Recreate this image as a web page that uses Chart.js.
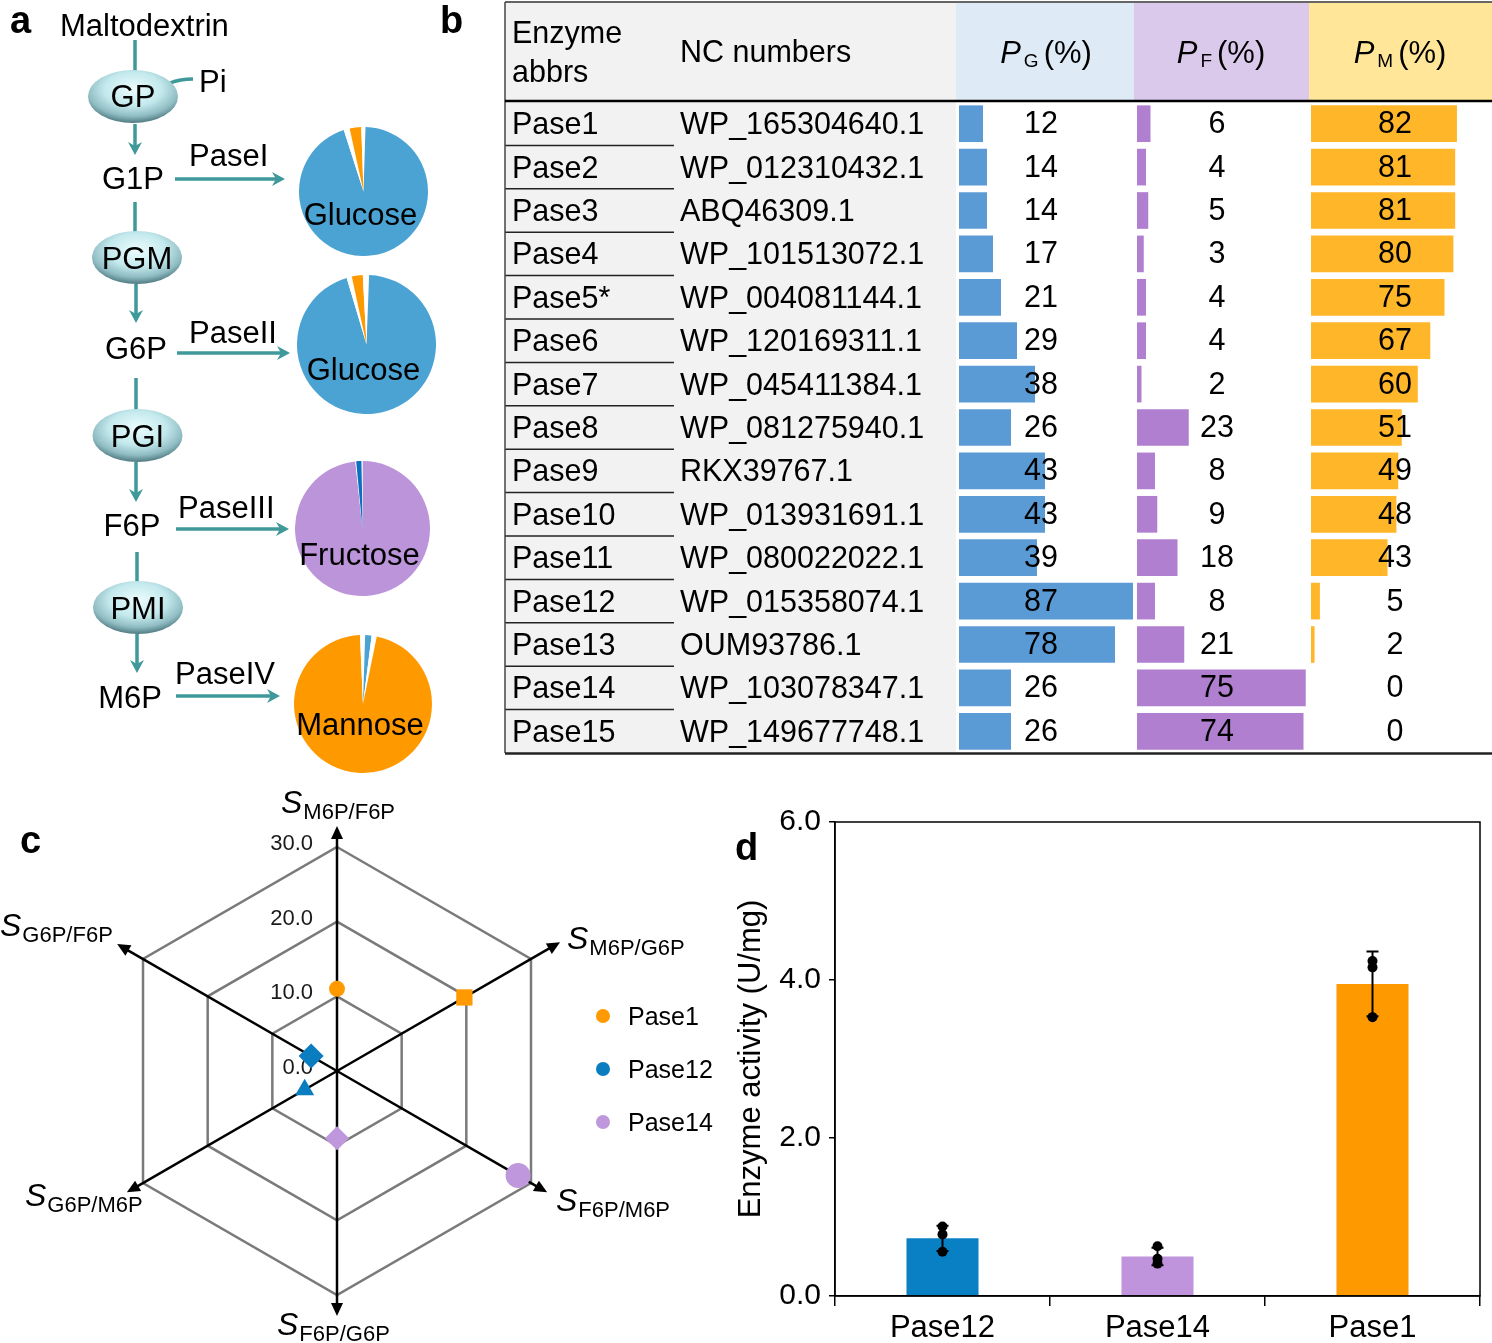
<!DOCTYPE html>
<html>
<head>
<meta charset="utf-8">
<script src="https://cdn.jsdelivr.net/npm/chart.js@4.4.1/dist/chart.umd.min.js"></script>
<style>
  html, body { margin:0; padding:0; background:#fff; }
  #page { position:relative; width:1492px; height:1343px; overflow:hidden; font-family:"Liberation Sans", Arial, sans-serif; }
  #page canvas { position:absolute; }
  #overlay { position:absolute; left:0; top:0; pointer-events:none; }
</style>
</head>
<body>
<div id="page">
  <canvas id="pie1"></canvas>
  <canvas id="pie2"></canvas>
  <canvas id="pie3"></canvas>
  <canvas id="pie4"></canvas>
  <canvas id="barPG"></canvas>
  <canvas id="barPF"></canvas>
  <canvas id="barPM"></canvas>
  <canvas id="radar"></canvas>
  <canvas id="activity"></canvas>
  <svg id="overlay" width="1492" height="1343" xmlns="http://www.w3.org/2000/svg"></svg>
</div>
<script>
// ── Données ────────────────────────────────────────────────
// a : parts des produits (%) dans chaque camembert, en partant de midi
const pieNames     = ['Glucose', 'Glucose', 'Fructose', 'Mannose'];
const pieIValues   = [0.5, 94.55, 1.5, 2.9, 0.55];
const pieIIValues  = [0.6, 94.8, 1.2, 2.55, 0.85];
const pieIIIValues = [98.3, 0.2, 1.3, 0.2];
const pieIVValues  = [0.5, 1.5, 1.2, 96.1, 0.7];

// b : tableau des 15 phosphatases
const enzymeAbbrs = ['Pase1','Pase2','Pase3','Pase4','Pase5*','Pase6','Pase7','Pase8',
                     'Pase9','Pase10','Pase11','Pase12','Pase13','Pase14','Pase15'];
const ncNumbers   = ['WP_165304640.1','WP_012310432.1','ABQ46309.1','WP_101513072.1','WP_004081144.1',
                     'WP_120169311.1','WP_045411384.1','WP_081275940.1','RKX39767.1','WP_013931691.1',
                     'WP_080022022.1','WP_015358074.1','OUM93786.1','WP_103078347.1','WP_149677748.1'];
const pG = [12, 14, 14, 17, 21, 29, 38, 26, 43, 43, 39, 87, 78, 26, 26];
const pF = [ 6,  4,  5,  3,  4,  4,  2, 23,  8,  9, 18,  8, 21, 75, 74];
const pM = [82, 81, 81, 80, 75, 67, 60, 51, 49, 48, 43,  5,  2,  0,  0];

// c : sélectivités (radar)
const radarAxes   = ['M6P/F6P', 'M6P/G6P', 'F6P/M6P', 'F6P/G6P', 'G6P/M6P', 'G6P/F6P'];
const radarTicks  = [0, 10, 20, 30];
const radarPase1  = [11, 19.7, null, null, null, null];
const radarPase12 = [null, null, null, null, 5, 4];
const radarPase14 = [null, null, 28, 9, null, null];

// d : activité enzymatique (U/mg)
const actLabels = ['Pase12', 'Pase14', 'Pase1'];
const actMean   = [0.73, 0.50, 3.95];
const actErr    = [0.16, 0.11, 0.41];
const actRep1   = [0.88, 0.63, 4.24];
const actRep2   = [0.78, 0.47, 4.16];
const actRep3   = [0.56, 0.41, 3.53];

// ── Styles ─────────────────────────────────────────────────
const FONT   = '"Liberation Sans", Arial, sans-serif';
const WHITE  = '#ffffff';
const BLUE   = '#4ba3d3', ORANGE = '#ff9900', PURPLE = '#bc94da', DKBLUE = '#0d6fbe';
const TEAL   = '#3f9899';

Chart.defaults.font.family = FONT;
Chart.defaults.color = '#000';
Chart.defaults.animation = false;
Chart.defaults.plugins.legend.display = false;
Chart.defaults.plugins.tooltip.enabled = false;

function sizeCanvas(id, left, top, w, h) {
  const el = document.getElementById(id);
  el.width = w; el.height = h;
  el.style.left = left + 'px'; el.style.top = top + 'px';
  el.style.width = w + 'px'; el.style.height = h + 'px';
  return el;
}

// ── a : camemberts ─────────────────────────────────────────
const pieBoxes = [
  { cx:363.5, cy:191.5, r:64.5, ty:33 },
  { cx:366.5, cy:344,   r:69.5, ty:36 },
  { cx:362.5, cy:528,   r:67.5, ty:37 },
  { cx:363,   cy:704,   r:69,   ty:31 },
];
const pieSets = [
  { values:pieIValues,   colors:[WHITE, BLUE, WHITE, ORANGE, WHITE] },
  { values:pieIIValues,  colors:[WHITE, BLUE, WHITE, ORANGE, WHITE] },
  { values:pieIIIValues, colors:[PURPLE, WHITE, DKBLUE, WHITE] },
  { values:pieIVValues,  colors:[WHITE, BLUE, WHITE, ORANGE, WHITE] },
];
pieSets.forEach((p, i) => {
  const b = pieBoxes[i];
  const el = sizeCanvas('pie' + (i+1), b.cx - b.r, b.cy - b.r, Math.round(b.r*2), Math.round(b.r*2));
  new Chart(el, {
    type: 'pie',
    data: { labels: p.values.map((_, k) => k), datasets: [{ data: p.values, backgroundColor: p.colors, borderWidth: 0, hoverOffset: 0, offset: 0 }] },
    options: { responsive: false, layout: { padding: 0 } }
  });
});

// ── b : barres du tableau ──────────────────────────────────
const ROW_TOP = 102, ROW_BOTTOM = 753;
const cellLabels = {
  id: 'cellLabels',
  afterDatasetsDraw(chart, args, opts) {
    const { ctx } = chart;
    const meta = chart.getDatasetMeta(0);
    ctx.save();
    ctx.font = `30.5px ${FONT}`;
    ctx.fillStyle = '#000';
    ctx.textAlign = 'center';
    ctx.textBaseline = 'middle';
    meta.data.forEach((bar, i) => {
      ctx.fillText(String(chart.data.datasets[0].data[i]), chart.chartArea.left + opts.x, bar.y + 1);
    });
    ctx.restore();
  }
};
function tableBars(id, values, color, left, pxPer100, labelX) {
  const el = sizeCanvas(id, left, ROW_TOP, pxPer100, ROW_BOTTOM - ROW_TOP);
  new Chart(el, {
    type: 'bar',
    data: { labels: enzymeAbbrs, datasets: [{ data: values, backgroundColor: color, borderWidth: 0, barPercentage: 0.845, categoryPercentage: 1 }] },
    options: {
      indexAxis: 'y', responsive: false, layout: { padding: 0 },
      scales: { x: { display: false, min: 0, max: 100 }, y: { display: false } },
      plugins: { cellLabels: { x: labelX } }
    },
    plugins: [cellLabels]
  });
}
tableBars('barPG', pG, '#5b9bd5', 959,  200, 82);
tableBars('barPF', pF, '#b07fd0', 1137, 225, 80);
tableBars('barPM', pM, '#ffb629', 1311, 178, 84);

// ── c : radar ──────────────────────────────────────────────
const radarDeco = {
  id: 'radarDeco',
  beforeDatasetsDraw(chart, args, opts) {
    const s = chart.scales.r, ctx = chart.ctx;
    ctx.save();
    ctx.strokeStyle = '#000'; ctx.fillStyle = '#000'; ctx.lineWidth = 2.5;
    chart.data.labels.forEach((_, i) => {
      const tip = s.getPointPosition(i, s.getDistanceFromCenterForValue(opts.arrowTo[i]));
      const a = Math.atan2(tip.y - s.yCenter, tip.x - s.xCenter);
      const bx = tip.x - Math.cos(a)*10, by = tip.y - Math.sin(a)*10;
      ctx.beginPath(); ctx.moveTo(s.xCenter, s.yCenter); ctx.lineTo(bx, by); ctx.stroke();
      const hx = tip.x - Math.cos(a)*13, hy = tip.y - Math.sin(a)*13;
      ctx.beginPath();
      ctx.moveTo(tip.x, tip.y);
      ctx.lineTo(hx + Math.sin(a)*6, hy - Math.cos(a)*6);
      ctx.lineTo(hx - Math.sin(a)*6, hy + Math.cos(a)*6);
      ctx.closePath(); ctx.fill();
    });
    ctx.font = `22px ${FONT}`;
    ctx.fillStyle = '#1a1a1a';
    ctx.textAlign = 'right'; ctx.textBaseline = 'middle';
    s.ticks.forEach(t => {
      const p = s.getPointPosition(0, s.getDistanceFromCenterForValue(t.value));
      ctx.fillText(t.value.toFixed(1), p.x - 24, p.y - 3);
    });
    ctx.restore();
  }
};
const radarEl = sizeCanvas('radar', 0, 780, 720, 563);
const radarSet = (label, data, color, styles, radii) => ({
  label, data, showLine: false, fill: false, borderWidth: 0,
  pointStyle: styles, pointRadius: radii, pointBackgroundColor: color, pointBorderWidth: 0, pointHoverRadius: radii
});
new Chart(radarEl, {
  type: 'radar',
  data: {
    labels: radarAxes,
    datasets: [
      radarSet('Pase1',  radarPase1,  '#ff9900', ['circle','rect','circle','circle','circle','circle'], [8, 11.5, 0, 0, 0, 0]),
      radarSet('Pase12', radarPase12, '#0a7cc0', ['circle','circle','circle','circle','triangle','rectRot'], [0, 0, 0, 0, 11, 12.5]),
      radarSet('Pase14', radarPase14, '#bf97dc', ['circle','circle','circle','rectRot','circle','circle'], [0, 0, 12.5, 12, 0, 0]),
    ]
  },
  options: {
    responsive: false,
    layout: { padding: { left: 113, right: 159, top: 67, bottom: 48 } },
    scales: {
      r: {
        min: radarTicks[0], max: radarTicks[radarTicks.length-1],
        ticks: { stepSize: 10, display: false },
        grid: { circular: false, color: '#7a7a7a', lineWidth: 2.5 },
        angleLines: { display: false },
        pointLabels: { display: false }
      }
    },
    plugins: { radarDeco: { arrowTo: [32.8, 34.5, 32.5, 32.8, 32.5, 34] } }
  },
  plugins: [radarDeco]
});

// ── d : activité ───────────────────────────────────────────
const errorBars = {
  id: 'errorBars',
  afterDatasetDraw(chart, args, opts) {
    if (args.index !== 0) return;
    const { ctx } = chart, x = chart.scales.x, y = chart.scales.y;
    ctx.save();
    ctx.strokeStyle = '#000'; ctx.lineWidth = 2;
    opts.mean.forEach((m, i) => {
      const px = x.getPixelForValue(i);
      const t = y.getPixelForValue(m + opts.err[i]), b = y.getPixelForValue(m - opts.err[i]);
      ctx.beginPath();
      ctx.moveTo(px, t); ctx.lineTo(px, b);
      ctx.moveTo(px - 6, t); ctx.lineTo(px + 6, t);
      ctx.moveTo(px - 6, b); ctx.lineTo(px + 6, b);
      ctx.stroke();
    });
    ctx.restore();
  }
};
const frameBox = {
  id: 'frameBox',
  afterDraw(chart) {
    const { ctx, chartArea: a } = chart;
    ctx.save(); ctx.strokeStyle = '#000'; ctx.lineWidth = 1.5;
    ctx.strokeRect(a.left, a.top, a.right - a.left, a.bottom - a.top);
    ctx.restore();
  }
};
const actEl = sizeCanvas('activity', 720, 790, 772, 553);
const repSet = data => ({ type: 'line', data, showLine: false, pointRadius: 5, pointHoverRadius: 5,
                          pointBackgroundColor: '#000', pointBorderWidth: 0, order: 0 });
new Chart(actEl, {
  type: 'bar',
  data: {
    labels: actLabels,
    datasets: [
      { data: actMean, backgroundColor: ['#0a80c4', '#bf94dc', '#ff9900'], barPercentage: 0.335, categoryPercentage: 1, order: 2 },
      repSet(actRep1), repSet(actRep2), repSet(actRep3)
    ]
  },
  options: {
    responsive: false,
    layout: { padding: { left: 10, top: 32, right: 12, bottom: 0 } },
    scales: {
      x: {
        grid: { display: true, drawOnChartArea: false, tickLength: 10, color: '#000', lineWidth: 1.5, offset: true },
        border: { color: '#000', width: 1.5 },
        ticks: { font: { size: 31 }, color: '#000', padding: 4 },
        afterFit(s) { s.height = 47; }
      },
      y: {
        min: 0, max: 6,
        ticks: { stepSize: 2, callback: v => v.toFixed(1), font: { size: 30 }, color: '#000', padding: 8 },
        grid: { display: true, drawOnChartArea: false, tickLength: 6, color: '#000', lineWidth: 1.5 },
        border: { color: '#000', width: 1.5 },
        title: { display: true, text: 'Enzyme activity (U/mg)', font: { size: 31 }, color: '#000', padding: { top: 3, bottom: 0 } },
        afterFit(s) { s.width = 105; }
      }
    },
    plugins: { errorBars: { mean: actMean, err: actErr } }
  },
  plugins: [errorBars, frameBox]
});

// ── Texte et schéma (SVG) ──────────────────────────────────
const svg = [];
svg.push(`<defs>
  <radialGradient id="egg" cx="50%" cy="36%" r="64%">
    <stop offset="0" stop-color="#ecfcfd"/><stop offset="0.5" stop-color="#c3e9ed"/>
    <stop offset="0.8" stop-color="#8fbcc2"/><stop offset="1" stop-color="#4f7a81"/>
  </radialGradient></defs>`);
const T = (x, y, s, size = 31, extra = '') =>
  `<text x="${x}" y="${y}" font-size="${size}" font-family='${FONT}' ${extra}>${s}</text>`;
const vLine = (x, y1, y2) => `<line x1="${x}" y1="${y1}" x2="${x}" y2="${y2}" stroke="${TEAL}" stroke-width="3.5"/>`;
const vArrow = (x, y1, y2) => vLine(x, y1, y2 - 8) +
  `<polygon points="${x},${y2} ${x-7},${y2-13} ${x},${y2-9} ${x+7},${y2-13}" fill="${TEAL}"/>`;
const hArrow = (x1, x2, y) => `<line x1="${x1}" y1="${y}" x2="${x2-8}" y2="${y}" stroke="${TEAL}" stroke-width="3.5"/>` +
  `<polygon points="${x2},${y} ${x2-13},${y-7} ${x2-9},${y} ${x2-13},${y+7}" fill="${TEAL}"/>`;
const egg = (cx, cy, txt, base) => `<ellipse cx="${cx}" cy="${cy}" rx="45" ry="26.5" fill="url(#egg)"/>` +
  T(cx, base, txt, 31, 'text-anchor="middle"');

// a
svg.push(T(10, 33, 'a', 38, 'font-weight="bold"'));
svg.push(T(60, 36, 'Maltodextrin', 31));
svg.push(vLine(135, 40, 72));
svg.push(`<path d="M170,83 Q180,79 193,79" stroke="${TEAL}" stroke-width="3.5" fill="none"/>`);
svg.push(egg(133, 96.5, 'GP', 107));
svg.push(T(199, 92, 'Pi'));
svg.push(vArrow(135, 124, 155));
svg.push(T(133, 189, 'G1P', 31, 'text-anchor="middle"'));
svg.push(T(189, 166, 'PaseI'));
svg.push(hArrow(175, 285, 179));
svg.push(vLine(135, 202, 233));
svg.push(egg(137, 257.5, 'PGM', 269));
svg.push(vArrow(136, 284, 323));
svg.push(T(136, 359, 'G6P', 31, 'text-anchor="middle"'));
svg.push(T(189, 343, 'PaseII'));
svg.push(hArrow(177, 290, 353));
svg.push(vLine(136, 378, 410));
svg.push(egg(137.5, 435.5, 'PGI', 447));
svg.push(vArrow(136, 462, 502));
svg.push(T(132, 536, 'F6P', 31, 'text-anchor="middle"'));
svg.push(T(178, 518, 'PaseIII'));
svg.push(hArrow(176, 289, 529));
svg.push(vLine(137, 552, 583));
svg.push(egg(138, 607.5, 'PMI', 619));
svg.push(vArrow(137, 634, 673));
svg.push(T(130, 708, 'M6P', 31, 'text-anchor="middle"'));
svg.push(T(175, 684, 'PaseIV'));
svg.push(hArrow(176, 280, 696));
pieBoxes.forEach((b, i) => svg.push(T(b.cx - 3, b.cy + b.ty, pieNames[i], 31, 'text-anchor="middle"')));

// b
svg.push(T(440, 33, 'b', 38, 'font-weight="bold"'));
svg.push(`<rect x="505" y="2" width="451" height="751" fill="#f2f2f2"/>`);
svg.push(`<rect x="956" y="3" width="178" height="98" fill="#deebf7"/>`);
svg.push(`<rect x="1134" y="3" width="175" height="98" fill="#dbc9ec"/>`);
svg.push(`<rect x="1309" y="3" width="183" height="98" fill="#ffe699"/>`);
svg.push(T(512, 43, 'Enzyme', 30.5));
svg.push(T(512, 82, 'abbrs', 30.5));
svg.push(T(680, 62, 'NC numbers', 30.5));
const head = (cx, sub) => `<text x="${cx}" y="63" font-size="31" font-family='${FONT}' text-anchor="middle">` +
  `<tspan font-style="italic">P</tspan><tspan font-size="19" dx="3" dy="4">${sub}</tspan><tspan dx="5" dy="-4">(%)</tspan></text>`;
svg.push(head(1046, 'G'), head(1221, 'F'), head(1400, 'M'));
const rowH = (ROW_BOTTOM - ROW_TOP) / enzymeAbbrs.length;
enzymeAbbrs.forEach((e, i) => {
  const yc = ROW_TOP + rowH*(i + 0.5);
  svg.push(T(512, yc + 10.5, e, 30.5));
  svg.push(T(680, yc + 10.5, ncNumbers[i], 30.5));
  if (i > 0) svg.push(`<line x1="505" x2="674" y1="${ROW_TOP + rowH*i}" y2="${ROW_TOP + rowH*i}" stroke="#222" stroke-width="1.5"/>`);
});
svg.push(`<line x1="505" x2="1492" y1="2" y2="2" stroke="#333" stroke-width="1.5"/>`);
svg.push(`<line x1="505" x2="505" y1="2" y2="753" stroke="#444" stroke-width="1.5"/>`);
svg.push(`<line x1="505" x2="1492" y1="101" y2="101" stroke="#000" stroke-width="2.5"/>`);
svg.push(`<line x1="505" x2="1492" y1="753.5" y2="753.5" stroke="#222" stroke-width="2.5"/>`);

// c
svg.push(T(20, 853, 'c', 38, 'font-weight="bold"'));
const sLabel = (x, y, sub) => `<text x="${x}" y="${y}" font-family='${FONT}'>` +
  `<tspan font-style="italic" font-size="32">S</tspan><tspan font-size="22" dx="1" dy="6">${sub}</tspan></text>`;
const sPos = [[281, 813], [567, 949], [556, 1211], [277, 1335], [25, 1206], [0, 936]];
radarAxes.forEach((a, i) => svg.push(sLabel(sPos[i][0], sPos[i][1], a)));
[['Pase1', '#ff9900'], ['Pase12', '#0a7cc0'], ['Pase14', '#bf97dc']].forEach(([n, c], i) => {
  const y = 1016 + i*53;
  svg.push(`<circle cx="603" cy="${y}" r="7" fill="${c}"/>`);
  svg.push(T(628, y + 9, n, 25));
});

// d
svg.push(T(735, 860, 'd', 38, 'font-weight="bold"'));

document.getElementById('overlay').innerHTML = svg.join('\n');
</script>
</body>
</html>
